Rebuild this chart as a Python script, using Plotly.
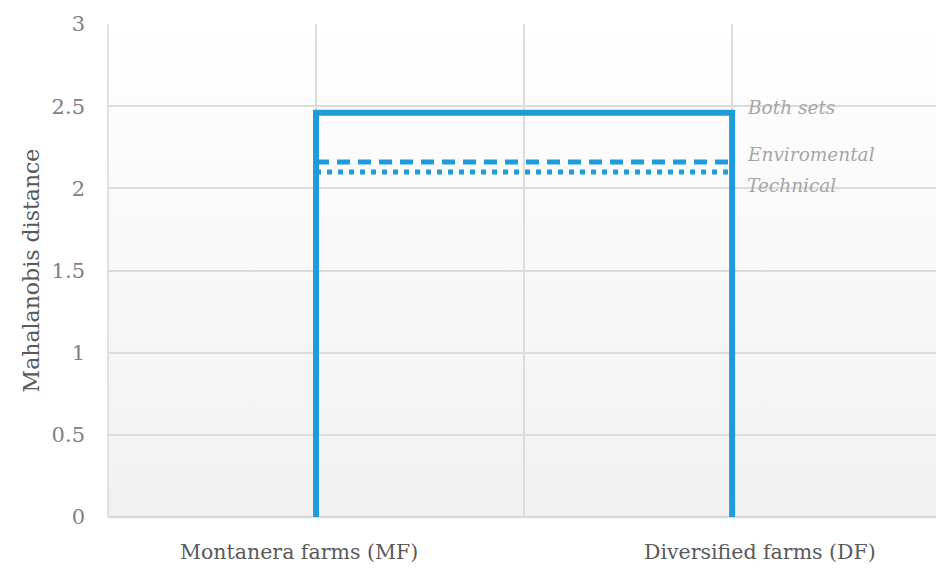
import base64
import plotly.graph_objects as go

# ---- data ----
cluster_labels = ["Montanera farms (MF)", "Diversified farms (DF)"]
leaf_x = [1, 3]
set_names = ["Both sets", "Enviromental", "Technical"]
linkage_distance = [2.46, 2.16, 2.10]
y_ticks = [0, 0.5, 1, 1.5, 2, 2.5, 3]
y_tick_text = ["0", "0.5", "1", "1.5", "2", "2.5", "3"]

BLUE = "#1f9bd7"
FONT = "DejaVu Serif"

fig = go.Figure()

# solid dendrogram (both sets): vertical legs + top bar
fig.add_trace(go.Scatter(
    x=[leaf_x[0], leaf_x[0], leaf_x[1], leaf_x[1]],
    y=[0, linkage_distance[0], linkage_distance[0], 0],
    mode="lines", line=dict(color=BLUE, width=6), hoverinfo="skip",
    showlegend=False,
))
# environmental (dashed)
fig.add_trace(go.Scatter(
    x=leaf_x, y=[linkage_distance[1]] * 2,
    mode="lines", line=dict(color=BLUE, width=5, dash="13px,8px"),
    hoverinfo="skip", showlegend=False,
))
# technical (dotted)
fig.add_trace(go.Scatter(
    x=leaf_x, y=[linkage_distance[2]] * 2,
    mode="lines", line=dict(color=BLUE, width=5, dash="5px,6px"),
    hoverinfo="skip", showlegend=False,
))

# gradient background of plot area
svg = ('<svg xmlns="http://www.w3.org/2000/svg" width="10" height="100" preserveAspectRatio="none">'
       '<defs><linearGradient id="g" x1="0" y1="0" x2="0" y2="1">'
       '<stop offset="0" stop-color="#ffffff"/><stop offset="1" stop-color="#f1f1f1"/>'
       '</linearGradient></defs><rect width="10" height="100" fill="url(#g)"/></svg>')
uri = "data:image/svg+xml;base64," + base64.b64encode(svg.encode()).decode()
fig.add_layout_image(dict(source=uri, xref="paper", yref="paper", x=0, y=1,
                          sizex=1, sizey=1, sizing="stretch", layer="below",
                          xanchor="left", yanchor="top"))

# right-side set labels (pixel offsets are styling only)
label_shift = [5, 8, -14]
for name, d, s in zip(set_names, linkage_distance, label_shift):
    fig.add_annotation(x=3, y=d, xref="x", yref="y", xshift=13, yshift=s,
                       text=name, showarrow=False,
                       xanchor="left", yanchor="middle",
                       font=dict(family=FONT, size=18.5, color="#a6a6a6",
                                 style="italic"))

# category labels below axis
label_pos = [0.92, 3.135]
for lab, xp in zip(cluster_labels, label_pos):
    fig.add_annotation(x=xp, y=0, xref="x", yref="y", yshift=-35, text=lab,
                       showarrow=False, xanchor="center", yanchor="middle",
                       font=dict(family=FONT, size=20.5, color="#595959"))

fig.update_layout(
    width=936, height=568,
    margin=dict(l=108, r=0, t=24, b=51),
    paper_bgcolor="white", plot_bgcolor="rgba(0,0,0,0)",
    xaxis=dict(range=[0, 3.98], dtick=1, tick0=0, showticklabels=False,
               showgrid=True, gridcolor="#dcdcdc", gridwidth=1.5,
               zeroline=False, showline=False, fixedrange=True),
    yaxis=dict(range=[0, 3], tickvals=y_ticks, ticktext=y_tick_text,
               showgrid=True, gridcolor="#dcdcdc", gridwidth=1.5,
               zeroline=False, showline=False, ticks="", ticklen=0,
               ticklabelstandoff=22,
               tickfont=dict(family=FONT, size=21, color="#7f7f7f"),
               title=dict(text="Mahalanobis distance", standoff=5,
                          font=dict(family=FONT, size=22, color="#595959"))),
    showlegend=False,
)
# axis lines drawn as shapes over the gradient
fig.add_shape(type="line", xref="paper", yref="paper", x0=0, x1=0, y0=0, y1=1,
              line=dict(color="#d9d9d9", width=1.5), layer="below")
fig.add_shape(type="line", xref="paper", yref="paper", x0=0, x1=1, y0=0, y1=0,
              line=dict(color="#d9d9d9", width=2.5), layer="below")

fig.write_html("out.html", config={"displayModeBar": False},
               post_script="document.body.style.margin='0';document.body.style.overflow='hidden';")
